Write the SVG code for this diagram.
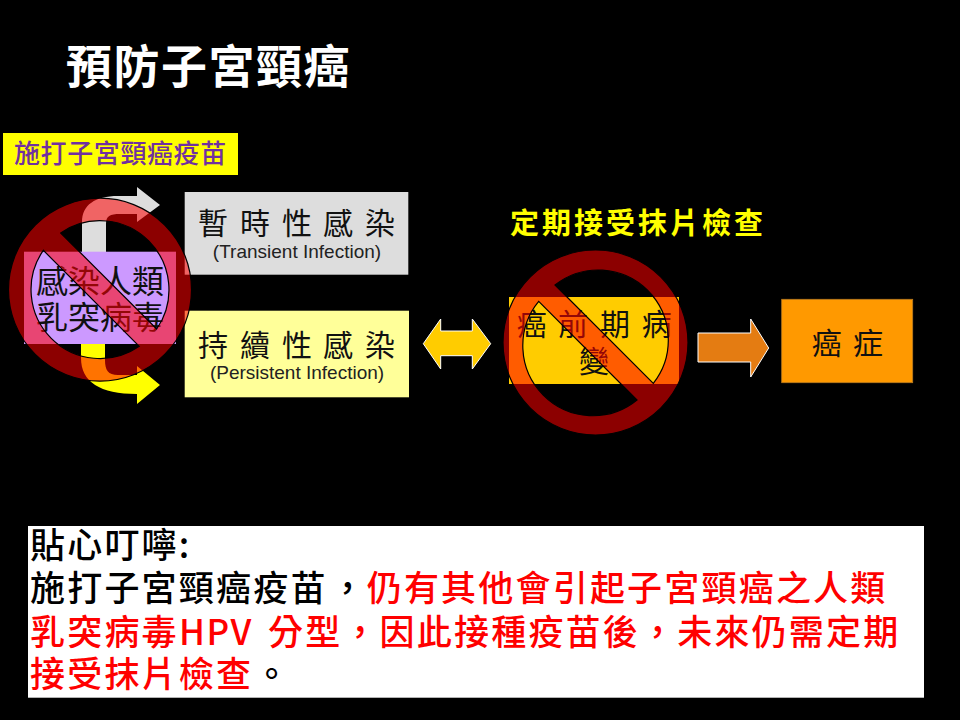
<svg xmlns="http://www.w3.org/2000/svg" width="960" height="720" viewBox="0 0 960 720">
<style>
text{font-family:"Noto Sans CJK TC","Liberation Sans",sans-serif;fill:#000}
.m{font-size:30px;text-anchor:middle;fill:#111}
.l{font-family:"Liberation Sans","Noto Sans CJK TC",sans-serif;font-size:19px;text-anchor:middle;fill:#222}
.b{font-size:35px;letter-spacing:2.200px;font-weight:500}
.r{fill:#f00}
.sign{fill:#f00;fill-opacity:.55;fill-rule:evenodd;stroke:#000;stroke-width:1.2}
.arw{stroke:#fff;stroke-width:1}
</style>
<rect width="960" height="720" fill="#000"/>
<g id="title"><text x="66 113.500 161 208.500 256 303.500" y="83" style="font-size:46px;font-weight:700;fill:#fff">預防子宮頸癌</text></g>
<g id="vaccine-label"><rect x="3" y="133" width="235" height="42" fill="#ff0"/><text x="14" y="163" style="font-size:26px;letter-spacing:.6px;fill:#7030a0;font-weight:500">施打子宮頸癌疫苗</text></g>
<g id="connectors">
<path d="M82 252V222C82 205 95 196 118 196H137V187L160 205L137 222V214H120C110 214 106 216 106 224V252Z" fill="#ddd"/>
<path d="M81 344V358C81 382 100 394 137 394V404L160 385L137 366V375H118C108 375 105 370 105 360V344Z" fill="#ff0"/>
<path class="arw" d="M423.300 343.700L440.700 319V331H472.300V319L490.700 343.700L472.300 369V355.700H440.700V369Z" fill="#fc0"/>
<path class="arw" d="M698 333H750.700V319L768.700 348L750.700 377V362H698Z" fill="#e47c12"/>
</g>
<g id="hpv"><rect x="24" y="251.700" width="152" height="92.300" fill="#c9f"/><text class="m" x="52 84 116 148" y="293" style="font-size:32px">感染人類</text><text class="m" x="52 84 116 148" y="329" style="font-size:32px">乳突病毒</text></g>
<g id="transient"><rect x="184.700" y="192" width="223.600" height="82.700" fill="#ddd"/><text class="m" x="213 255 297 338 380" y="234">暫時性感染</text><text class="l" x="297" y="258">(Transient Infection)</text></g>
<g id="persistent"><rect x="184.700" y="310.700" width="224.300" height="86.600" fill="#ff9"/><text class="m" x="213 255 297 338 380" y="356">持續性感染</text><text class="l" x="297" y="379">(Persistent Infection)</text></g>
<g id="regular-check"><text x="510" y="234" style="font-size:29px;letter-spacing:3px;font-weight:700;fill:#ff0">定期接受抹片檢查</text></g>
<g id="precancer"><rect x="509" y="297" width="170" height="87" fill="#fc0"/><text class="m" x="531.700 573 615 656.700" y="335">癌前期病</text><text class="m" x="594" y="372">變</text></g>
<g id="cancer"><rect x="781.700" y="299.300" width="131" height="83.400" fill="#f90" stroke="#b87a1e" stroke-width=".8"/><text class="m" x="826.700 868" y="354">癌症</text></g>
<g id="no-sign-1"><path class="sign" d="M191.500 289.700A91.500 91.500 0 1 1 8.500 289.700A91.500 91.500 0 1 1 191.500 289.700ZM60.700 233A69 69 0 0 1 156.700 329ZM139.300 346.300A69 69 0 0 1 43.300 250.300Z"/></g>
<g id="no-sign-2"><path class="sign" d="M688 342.500A92.500 92.500 0 1 1 503 342.500A92.500 92.500 0 1 1 688 342.500ZM555 285A70 70 0 0 1 653.300 383.300ZM637 400A70 70 0 0 1 538.700 301.300Z"/></g>
<g id="note"><rect x="28" y="526" width="896" height="171.700" fill="#fff"/>
<text class="b" x="30" y="558">貼心叮嚀:</text>
<text class="b" y="601"><tspan x="30">施打子宮頸癌疫苗</tspan><tspan x="330">，</tspan><tspan class="r" x="366.700">仍有其他會引起子宮頸癌之人類</tspan></text>
<text class="b r" y="645"><tspan x="30">乳突病毒</tspan><tspan x="179" style="letter-spacing:1.500px">HPV</tspan><tspan x="268">分型，因此接種疫苗後，未來仍需定期</tspan></text>
<text class="b" y="687"><tspan class="r" x="30">接受抹片檢查</tspan><tspan x="254">。</tspan></text>
</g>
</svg>
